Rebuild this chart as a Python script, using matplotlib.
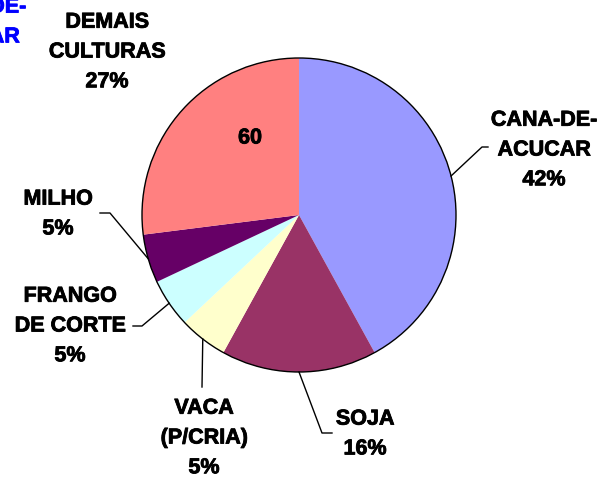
import numpy as np
import matplotlib
matplotlib.use('Agg')
import matplotlib.pyplot as plt
from matplotlib.patches import Circle
import matplotlib.patheffects as pe

# slices, clockwise from 12 o'clock
labels = ['CANA-DE-\nACUCAR', 'SOJA', 'VACA\n(P/CRIA)', 'FRANGO\nDE CORTE', 'MILHO', 'DEMAIS\nCULTURAS']
shares = [42, 16, 5, 5, 5, 27]
colors = ['#9999FF', '#993366', '#FFFFCC', '#CCFFFF', '#660066', '#FF8080']
inner_label = '60'

W, H = 607, 480
fig = plt.figure(figsize=(W / 100, H / 100), dpi=100)
ax = fig.add_axes([0, 0, 1, 1])
font = dict(family='Liberation Sans', weight='bold', size=15.5,
            path_effects=[pe.withStroke(linewidth=0.6, foreground='black')])

cx, cy, r = 299, H - 215, 157
wedges, _ = ax.pie(shares, colors=colors, startangle=90, counterclock=False,
                   center=(cx, cy), radius=r, wedgeprops=dict(linewidth=0))
ax.add_patch(Circle((cx, cy), r, fill=False, edgecolor='black', linewidth=1.0))

# label centre (px from top-left) and leader elbow points
label_pos = [(544, 150), (365, 434), (204, 438), (70, 326), (58, 214), (107, 52)]
elbows = [[(482, 147), (488, 147)],
          [(322, 433), (332, 433)],
          [(202, 387)],
          [(142, 326), (133, 326)],
          [(110, 213), (100, 213)],
          None]

for w, lab, s, (lx, ly), el in zip(wedges, labels, shares, label_pos, elbows):
    ax.text(lx, H - ly, '%s\n%d%%' % (lab, s), ha='center', va='center',
            multialignment='center', linespacing=1.55, **font)
    if el is None:
        continue
    mid = np.deg2rad((w.theta1 + w.theta2) / 2)
    xs = [cx + r * np.cos(mid)] + [p[0] for p in el]
    ys = [cy + r * np.sin(mid)] + [H - p[1] for p in el]
    ax.plot(xs, ys, color='black', linewidth=1.0)

ax.text(250, H - 138, inner_label, ha='center', va='center', **font)

# chart title, mostly off the left edge
title_font = dict(font)
title_font['path_effects'] = [pe.withStroke(linewidth=0.6, foreground='#0000FF')]
ax.text(-27, H - 22, 'CANA-DE-\nACUCAR', ha='center', va='center', color='#0000FF',
        multialignment='center', linespacing=1.55, **title_font)

ax.set_xlim(0, W)
ax.set_ylim(0, H)
ax.set_aspect('auto')
ax.axis('off')
fig.savefig('out.png', dpi=100)
